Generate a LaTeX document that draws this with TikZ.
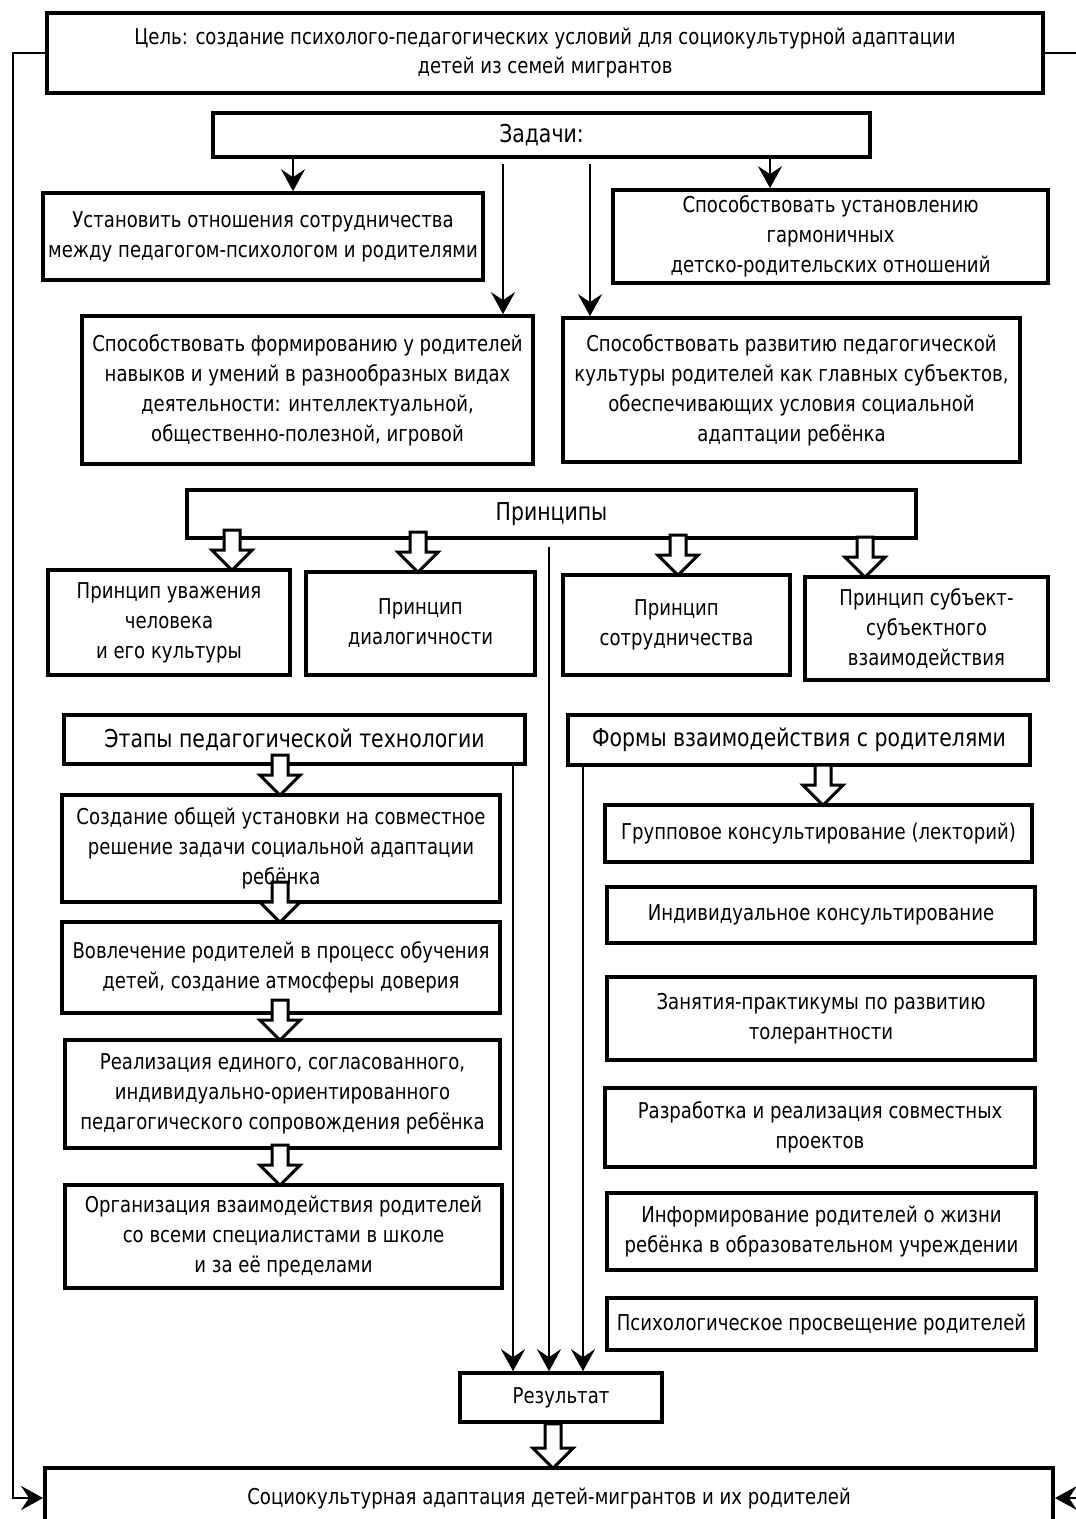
\documentclass[tikz,border=0pt]{standalone}
\usepackage{fontspec}
\setmainfont{DejaVu Sans}[FakeStretch=0.83]
\usetikzlibrary{arrows.meta,calc}

\tikzset{
  box/.style={draw, line width=0.09cm, fill=white, align=center, inner sep=1pt,
    font=\fontsize{15.5}{21.3}\selectfont},
  head/.style={box, font=\fontsize{17.5}{21.3}\selectfont},
  link/.style={line width=0.065cm},
  arr/.style={link, -{Stealth[length=0.55cm,width=0.6cm,inset=0.2cm]}},
  hollow/.style={line width=0.075cm, fill=white, line join=miter,
    to path={let \p1=(\tikztostart), \p2=(\tikztotarget),
      \p3=(0pt,{max(\y1,\y2+0.95cm)}) in
      (\x1-0.2cm,\y3) -- (\x1+0.2cm,\y3) -- (\x1+0.2cm,\y2+0.45cm)
      -- (\x1+0.5cm,\y2+0.45cm) -- (\x1,\y2-0.05cm) -- (\x1-0.5cm,\y2+0.45cm)
      -- (\x1-0.2cm,\y2+0.45cm) -- cycle}},
}

\begin{document}
\begin{tikzpicture}[x=0.025cm,y=-0.025cm]
  \useasboundingbox (0,0) rectangle (1076,1519);
  \clip (0,0) rectangle (1076,1519);

  % goal and tasks
  \node[box, minimum width=24.9cm, minimum height=2cm] (goal) at (545,53)
    {Цель: создание психолого-педагогических условий для социокультурной адаптации\\детей из семей мигрантов};
  \node[head, minimum width=16.425cm, minimum height=1.1cm] (tasks) at (541.5,135) {Задачи:};
  \node[box, minimum width=11cm, minimum height=2.175cm] (t1) at (263,236.5)
    {Установить отношения сотрудничества\\между педагогом-психологом и родителями};
  \node[box, minimum width=10.875cm, minimum height=2.325cm] (t2) at (830.5,236.5)
    {Способствовать установлению\\гармоничных\\детско-родительских отношений};
  \node[box, minimum width=11.275cm, minimum height=3.7cm] (t3) at (307.5,390)
    {Способствовать формированию у родителей\\навыков и умений в разнообразных видах\\деятельности: интеллектуальной,\\общественно-полезной, игровой};
  \node[box, minimum width=11.425cm, minimum height=3.6cm] (t4) at (791.5,390)
    {Способствовать развитию педагогической\\культуры родителей как главных субъектов,\\обеспечивающих условия социальной\\адаптации ребёнка};

  % principles
  \node[head, minimum width=18.225cm, minimum height=1.2cm] (princ) at (551.5,514) {Принципы};
  \node[box, minimum width=6.05cm, minimum height=2.625cm] (p1) at (169,622.5)
    {Принцип уважения\\человека\\и его культуры};
  \node[box, minimum width=5.725cm, minimum height=2.575cm] (p2) at (420.5,623.5)
    {Принцип\\диалогичности};
  \node[box, minimum width=5.675cm, minimum height=2.5cm] (p3) at (676.5,625)
    {Принцип\\сотрудничества};
  \node[box, minimum width=6.075cm, minimum height=2.575cm] (p4) at (926.5,628.5)
    {Принцип субъект-\\субъектного\\взаимодействия};

  % stages of the technology
  \node[head, minimum width=11.525cm, minimum height=1.225cm] (stages) at (294.5,739.5)
    {Этапы педагогической технологии};
  \node[box, minimum width=10.95cm, minimum height=2.675cm] (s1) at (281,848.5)
    {Создание общей установки на совместное\\решение задачи социальной адаптации\\ребёнка};
  \node[box, minimum width=10.95cm, minimum height=2.275cm] (s2) at (281,967.5)
    {Вовлечение родителей в процесс обучения\\детей, создание атмосферы доверия};
  \node[box, minimum width=10.875cm, minimum height=2.7cm] (s3) at (282.5,1094)
    {Реализация единого, согласованного,\\индивидуально-ориентированного\\педагогического сопровождения ребёнка};
  \node[box, minimum width=10.925cm, minimum height=2.575cm] (s4) at (283.5,1236.5)
    {Организация взаимодействия родителей\\со всеми специалистами в школе\\и за её пределами};

  % forms of interaction
  \node[head, minimum width=11.55cm, minimum height=1.25cm] (forms) at (799,740)
    {Формы взаимодействия с родителями};
  \foreach \n/\x/\y/\w/\h/\t in {
      f1/818.5/833.5/10.675/1.425/{Групповое консультирование (лекторий)},
      f2/821/915/10.7/1.4/{Индивидуальное консультирование},
      f3/821/1018.5/10.7/2.075/{Занятия-практикумы по развитию\\толерантности},
      f4/820/1127.5/10.75/1.975/{Разработка и реализация совместных\\проектов},
      f5/821.5/1231.5/10.725/1.925/{Информирование родителей о жизни\\ребёнка в образовательном учреждении},
      f6/821.5/1324/10.725/1.3/{Психологическое просвещение родителей}} {
    \node[box, minimum width=\w cm, minimum height=\h cm] (\n) at (\x,\y) {\t};
  }

  % result
  \node[box, minimum width=5.05cm, minimum height=1.225cm] (res) at (561,1397.5) {Результат};
  \node[box, minimum width=25.2cm, minimum height=1.5cm] (final) at (549,1498)
    {Социокультурная адаптация детей-мигрантов и их родителей};

  % thin arrows
  \foreach \x/\t in {293/t1,770/t2} {
    \coordinate (c) at (\x,0);
    \draw[arr] (tasks.south -| c) -- (\t.north -| c);
  }
  \foreach \x/\t in {503/t3,590/t4} {
    \coordinate (c) at (\x,0);
    \draw[arr] ($(tasks.south -| c)+(0,5)$) -- (\t.north -| c);
  }
  \foreach \x/\s/\d in {513/stages/0,549/princ/7,583/forms/0} {
    \coordinate (c) at (\x,0);
    \draw[arr] ($(\s.south -| c)+(0,\d)$) -- (res.north -| c);
  }

  % feedback lines round the picture
  \coordinate (lft) at (13,53);
  \coordinate (rgt) at (1090,53);
  \draw[arr] (goal.west) -- (lft) |- (final.west);
  \draw[arr] (goal.east) -- (rgt) |- (final.east);

  % hollow arrows
  \foreach \x/\s/\t in {232/princ/p1,418/princ/p2,678/princ/p3,865/princ/p4,
      280/stages/s1,280/s1/s2,280/s2/s3,280/s3/s4,823/forms/f1,553/res/final} {
    \coordinate (c) at (\x,0);
    \draw[hollow] (\s.south -| c) to (\t.north -| c);
  }
\end{tikzpicture}
\end{document}
